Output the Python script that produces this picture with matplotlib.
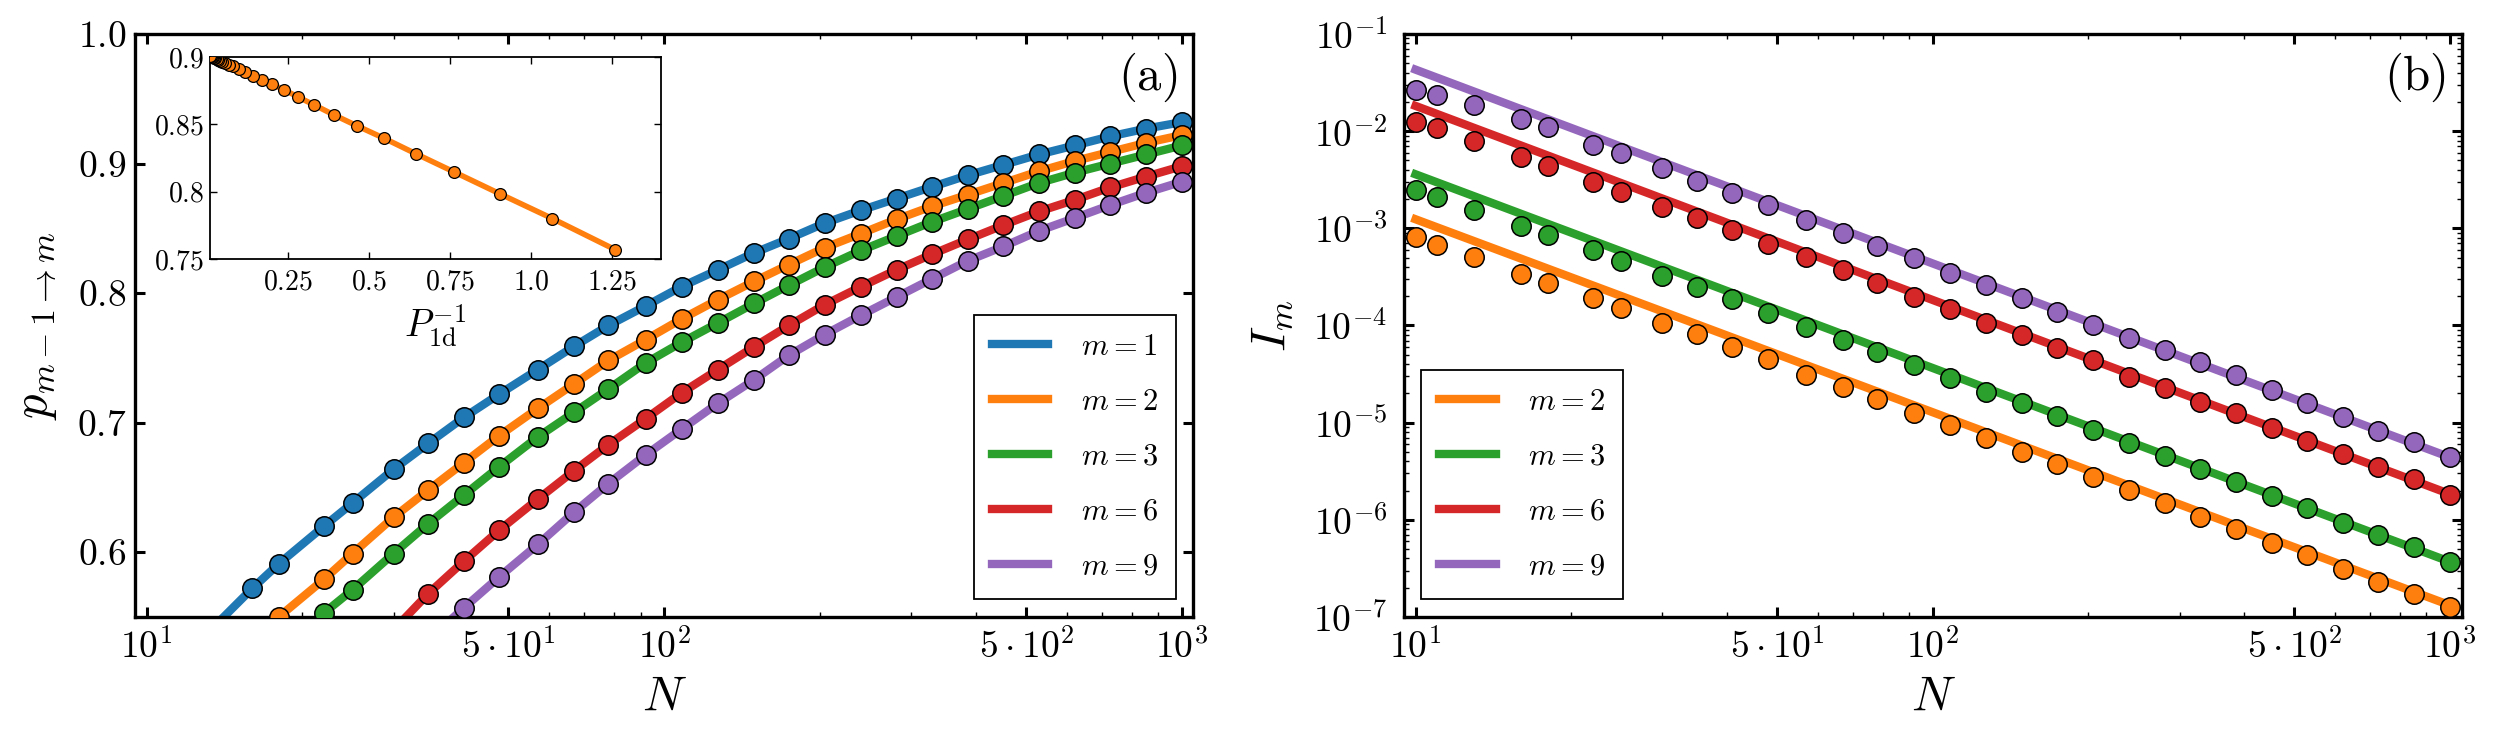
import matplotlib
matplotlib.use("Agg")
import numpy as np
import matplotlib.pyplot as plt
from matplotlib.ticker import FixedLocator, FixedFormatter, NullFormatter

plt.rcParams["mathtext.fontset"] = "cm"
plt.rcParams["font.family"] = "serif"
plt.rcParams["font.serif"] = ["cmr10", "DejaVu Serif"]
plt.rcParams["axes.formatter.use_mathtext"] = True

nan = np.nan

# system sizes (shared by both panels)
N_VALUES = [10, 11, 13, 16, 18, 22, 25, 30, 35, 41, 48, 57, 67, 78, 92,
            108, 127, 149, 174, 204, 240, 281, 329, 386, 452, 529, 621, 727, 853, 1000]

# panel (a): p_{m-1 -> m}
P_M1 = [nan, nan, 0.536, 0.572, 0.591, 0.620, 0.638, 0.664, 0.684, 0.704, 0.722, 0.741,
        0.759, 0.775, 0.790, 0.805, 0.818, 0.831, 0.842, 0.854, 0.864, 0.873, 0.882,
        0.891, 0.899, 0.907, 0.914, 0.921, 0.927, 0.932]
P_M2 = [nan, nan, nan, 0.529, 0.550, 0.579, 0.599, 0.627, 0.648, 0.669, 0.690, 0.711,
        0.730, 0.748, 0.764, 0.780, 0.795, 0.809, 0.822, 0.835, 0.846, 0.857, 0.867,
        0.876, 0.885, 0.894, 0.902, 0.909, 0.916, 0.922]
P_M3 = [nan, nan, nan, nan, 0.513, 0.553, 0.571, 0.599, 0.622, 0.644, 0.666, 0.689,
        0.708, 0.726, 0.746, 0.762, 0.777, 0.792, 0.806, 0.820, 0.833, 0.844, 0.855,
        0.865, 0.875, 0.885, 0.893, 0.900, 0.907, 0.914]
P_M6 = [nan, nan, nan, nan, nan, nan, nan, 0.540, 0.568, 0.593, 0.617, 0.641,
        0.663, 0.683, 0.703, 0.723, 0.741, 0.7585, 0.775, 0.791, 0.805, 0.818, 0.830,
        0.8415, 0.8525, 0.863, 0.872, 0.8816, 0.890, 0.898]
P_M9 = [nan, nan, nan, nan, nan, nan, nan, nan, 0.532, 0.557, 0.581, 0.606,
        0.631, 0.653, 0.675, 0.695, 0.715, 0.733, 0.752, 0.768, 0.783, 0.797, 0.811,
        0.825, 0.836, 0.848, 0.858, 0.868, 0.8775, 0.886]

# inset: p vs 1/P_1d
INSET_X = [1.258, 1.065, 0.902, 0.762, 0.645, 0.546, 0.461, 0.391, 0.330, 0.280,
           0.237, 0.200, 0.169, 0.141, 0.118, 0.097, 0.079, 0.066, 0.056, 0.047,
           0.040, 0.034, 0.029, 0.025, 0.021, 0.018, 0.015, 0.013, 0.011, 0.0093]
INSET_Y = [0.757, 0.780, 0.7985, 0.8146, 0.828, 0.8396, 0.849, 0.857, 0.8644, 0.8703,
           0.8757, 0.8797, 0.8832, 0.8861, 0.8889, 0.8911, 0.8931, 0.8944, 0.8956, 0.8966,
           0.8974, 0.8981, 0.8987, 0.8991, 0.8996, 0.8999, 0.9003, 0.9005, 0.9007, 0.9009]

# panel (b): I_m
I_M2 = [8.09e-4, 6.75e-4, 5.04e-4, 3.39e-4, 2.76e-4, 1.91e-4, 1.50e-4, 1.07e-4, 8.18e-5,
        6.05e-5, 4.49e-5, 3.10e-5, 2.34e-5, 1.76e-5, 1.27e-5, 9.46e-6, 6.90e-6, 5.02e-6,
        3.73e-6, 2.74e-6, 2.03e-6, 1.50e-6, 1.08e-6, 8.00e-7, 5.74e-7, 4.35e-7, 3.10e-7,
        2.31e-7, 1.73e-7, 1.26e-7]
I_M3 = [2.48e-3, 2.12e-3, 1.55e-3, 1.06e-3, 8.53e-4, 5.98e-4, 4.65e-4, 3.24e-4, 2.47e-4,
        1.86e-4, 1.34e-4, 9.73e-5, 7.10e-5, 5.38e-5, 3.89e-5, 2.86e-5, 2.08e-5, 1.58e-5,
        1.17e-5, 8.41e-6, 6.22e-6, 4.54e-6, 3.33e-6, 2.47e-6, 1.76e-6, 1.32e-6, 9.33e-7,
        6.98e-7, 5.21e-7, 3.71e-7]
I_M6 = [1.25e-2, 1.07e-2, 7.98e-3, 5.46e-3, 4.39e-3, 3.02e-3, 2.38e-3, 1.67e-3, 1.27e-3,
        9.62e-4, 6.90e-4, 5.04e-4, 3.72e-4, 2.72e-4, 1.98e-4, 1.47e-4, 1.07e-4, 7.98e-5,
        5.82e-5, 4.42e-5, 2.97e-5, 2.26e-5, 1.64e-5, 1.25e-5, 8.75e-6, 6.53e-6, 4.76e-6,
        3.48e-6, 2.61e-6, 1.80e-6]
I_M9 = [2.66e-2, 2.36e-2, 1.86e-2, 1.33e-2, 1.10e-2, 7.21e-3, 5.92e-3, 4.15e-3, 3.09e-3,
        2.29e-3, 1.74e-3, 1.22e-3, 9.02e-4, 6.62e-4, 4.92e-4, 3.50e-4, 2.61e-4, 1.93e-4,
        1.39e-4, 1.01e-4, 7.38e-5, 5.60e-5, 4.25e-5, 3.09e-5, 2.16e-5, 1.58e-5, 1.15e-5,
        8.26e-6, 6.37e-6, 4.41e-6]

# power-law fits, N^-2 (end points)
FIT_N = [10, 1000]
FIT_M2 = [1.24e-3, 1.32e-7]
FIT_M3 = [3.6e-3, 3.7e-7]
FIT_M6 = [1.82e-2, 1.84e-6]
FIT_M9 = [4.3e-2, 4.4e-6]

COLORS = {1: "#1f77b4", 2: "#ff7f0e", 3: "#2ca02c", 6: "#d62728", 9: "#9467bd"}

X_MAJOR = [10, 50, 100, 500, 1000]
X_MAJOR_LABELS = [r"$10^1$", r"$5\cdot10^1$", r"$10^2$", r"$5\cdot10^2$", r"$10^3$"]
X_MINOR = [20, 30, 40, 60, 70, 80, 90, 200, 300, 400, 600, 700, 800, 900]

LINE_W = 6
MARKER = 14
TICK_FS = 27
LABEL_FS = 35


def style_ticks(ax, ypad):
    ax.tick_params(which="both", direction="in", top=True, right=True)
    ax.tick_params(which="major", length=7.5, width=2.2, labelsize=TICK_FS)
    ax.tick_params(which="minor", length=3.8, width=1.0)
    ax.tick_params(axis="x", which="major", pad=8)
    ax.tick_params(axis="y", which="major", pad=ypad)
    for sp in ax.spines.values():
        sp.set_linewidth(2.4)


def log_n_axis(ax):
    ax.set_xscale("log")
    ax.xaxis.set_major_locator(FixedLocator(X_MAJOR))
    ax.xaxis.set_major_formatter(FixedFormatter(X_MAJOR_LABELS))
    ax.xaxis.set_minor_locator(FixedLocator(X_MINOR))
    ax.xaxis.set_minor_formatter(NullFormatter())
    ax.set_xlim(9.5, 1050)


def make_legend(ax, loc, anchor):
    leg = ax.legend(loc=loc, bbox_to_anchor=anchor, fontsize=22, frameon=True,
                    fancybox=False, framealpha=1, edgecolor="black",
                    handlelength=1.85, handletextpad=1.05, labelspacing=0.9,
                    borderpad=0.6, borderaxespad=0)
    leg.get_frame().set_linewidth(1.3)
    return leg


fig = plt.figure(figsize=(24.98, 7.39), dpi=100)
ax_a = fig.add_axes([0.05404, 0.16509, 0.42354, 0.78890])
ax_b = fig.add_axes([0.56205, 0.16509, 0.42354, 0.78890])

# ---- panel (a)
series_a = [(1, P_M1), (2, P_M2), (3, P_M3), (6, P_M6), (9, P_M9)]
for m, p in series_a:
    ax_a.plot(N_VALUES, p, color=COLORS[m], lw=LINE_W, label=f"$m={m}$", zorder=2)
for m, p in series_a:
    ax_a.plot(N_VALUES, p, "o", ms=MARKER, mfc=COLORS[m], mec="black", mew=1.1,
              zorder=3, label="_nolegend_")

log_n_axis(ax_a)
ax_a.set_ylim(0.55, 1.0)
ax_a.yaxis.set_major_locator(FixedLocator([0.6, 0.7, 0.8, 0.9, 1.0]))
ax_a.yaxis.set_major_formatter(FixedFormatter([r"$0.6$", r"$0.7$", r"$0.8$", r"$0.9$", r"$1.0$"]))
style_ticks(ax_a, ypad=6)
ax_a.set_xlabel(r"$N$", fontsize=LABEL_FS)
ax_a.xaxis.set_label_coords(0.5, -0.10)
ax_a.set_ylabel(r"$p_{m-1\rightarrow m}$", fontsize=LABEL_FS)
ax_a.yaxis.set_label_coords(-0.072, 0.5)
ax_a.text(0.985, 0.972, r"$\mathrm{(a)}$", transform=ax_a.transAxes,
          ha="right", va="top", fontsize=LABEL_FS)
make_legend(ax_a, "lower right", (0.984, 0.031))

# inset
ax_in = fig.add_axes([0.08407, 0.64953, 0.18054, 0.27334])
ax_in.plot(INSET_X, INSET_Y, color=COLORS[2], lw=4, zorder=2)
ax_in.plot(INSET_X, INSET_Y, "o", ms=8.5, mfc=COLORS[2], mec="black", mew=0.9, zorder=3)
ax_in.set_xlim(0.0085, 1.40)
ax_in.set_ylim(0.75, 0.9)
ax_in.xaxis.set_major_locator(FixedLocator([0.25, 0.5, 0.75, 1.0, 1.25]))
ax_in.xaxis.set_major_formatter(FixedFormatter([r"$0.25$", r"$0.5$", r"$0.75$", r"$1.0$", r"$1.25$"]))
ax_in.yaxis.set_major_locator(FixedLocator([0.75, 0.8, 0.85, 0.9]))
ax_in.yaxis.set_major_formatter(FixedFormatter([r"$0.75$", r"$0.8$", r"$0.85$", r"$0.9$"]))
ax_in.tick_params(which="both", direction="in", top=True, right=True,
                  length=5, width=1.0, labelsize=20)
ax_in.tick_params(axis="x", pad=7)
ax_in.tick_params(axis="y", pad=4)
for sp in ax_in.spines.values():
    sp.set_linewidth(1.3)
ax_in.set_xlabel(r"$P_{\rm 1d}^{-1}$", fontsize=27, labelpad=6)

# ---- panel (b)
series_b = [(2, I_M2, FIT_M2), (3, I_M3, FIT_M3), (6, I_M6, FIT_M6), (9, I_M9, FIT_M9)]
for m, vals, fit in series_b:
    ax_b.plot(FIT_N, fit, color=COLORS[m], lw=LINE_W, label=f"$m={m}$", zorder=2)
for m, vals, fit in series_b:
    ax_b.plot(N_VALUES, vals, "o", ms=MARKER, mfc=COLORS[m], mec="black", mew=1.1,
              zorder=3, label="_nolegend_")

log_n_axis(ax_b)
ax_b.set_xlim(9.5, 1055)
ax_b.set_yscale("log")
ax_b.set_ylim(1e-7, 1e-1)
y_major = [1e-7, 1e-6, 1e-5, 1e-4, 1e-3, 1e-2, 1e-1]
ax_b.yaxis.set_major_locator(FixedLocator(y_major))
ax_b.yaxis.set_major_formatter(FixedFormatter([rf"$10^{{{e}}}$" for e in range(-7, 0)]))
y_minor = [k * 10.0 ** e for e in range(-7, -1) for k in range(2, 10)]
ax_b.yaxis.set_minor_locator(FixedLocator(y_minor))
ax_b.yaxis.set_minor_formatter(NullFormatter())
style_ticks(ax_b, ypad=12)
ax_b.set_xlabel(r"$N$", fontsize=LABEL_FS)
ax_b.xaxis.set_label_coords(0.5, -0.10)
ax_b.set_ylabel(r"$I_m$", fontsize=LABEL_FS)
ax_b.yaxis.set_label_coords(-0.103, 0.5)
ax_b.text(0.985, 0.972, r"$\mathrm{(b)}$", transform=ax_b.transAxes,
          ha="right", va="top", fontsize=LABEL_FS)
make_legend(ax_b, "lower left", (0.016, 0.031))

fig.savefig("out.png", dpi=100)
